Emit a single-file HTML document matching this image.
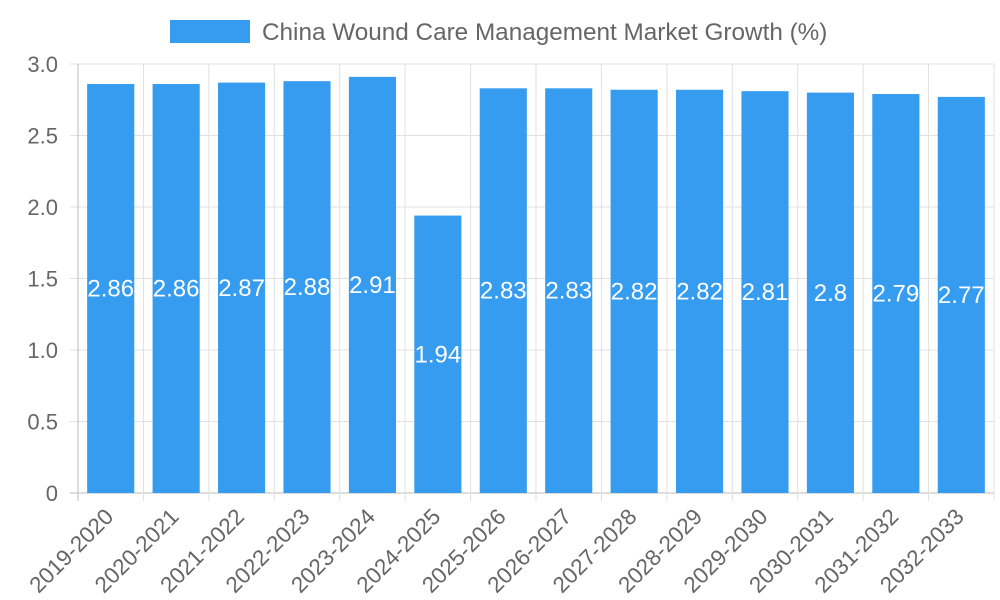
<!DOCTYPE html>
<html><head><meta charset="utf-8"><style>
body{margin:0;background:#fff;}
svg{display:block;font-family:"Liberation Sans",sans-serif;}
</style></head><body>
<svg id="chart" width="1000" height="600"></svg>
<script>
const categories=["2019-2020","2020-2021","2021-2022","2022-2023","2023-2024","2024-2025","2025-2026","2026-2027","2027-2028","2028-2029","2029-2030","2030-2031","2031-2032","2032-2033"];
const values=[2.86,2.86,2.87,2.88,2.91,1.94,2.83,2.83,2.82,2.82,2.81,2.8,2.79,2.77];
const yTicks=[0,0.5,1.0,1.5,2.0,2.5,3.0];
const yTickLabels=["0","0.5","1.0","1.5","2.0","2.5","3.0"];
const seriesName="China Wound Care Management Market Growth (%)";

const NS="http://www.w3.org/2000/svg";
const svg=document.getElementById('chart');
const L=78,R=994,T=64,B=493,yMax=3;
const bw=(R-L)/categories.length;
const y=v=>B-(v/yMax)*(B-T);
const x=i=>L+i*bw;
function mk(tag,attrs,parent){const e=document.createElementNS(NS,tag);for(const k in attrs)e.setAttribute(k,attrs[k]);(parent||svg).appendChild(e);return e;}

const lg=mk('g',{});


const lb=mk('rect',{x:170,y:20,width:80,height:23,fill:'#369cf0'},lg);


const lt=mk('text',{x:262,y:40,'font-size':24.3,fill:'#666'},lg);
lt.textContent=seriesName;



yTicks.forEach((t,i)=>{
  const gl=mk('line',{x1:L-8,x2:R,y1:y(t),y2:y(t),stroke:i==0?'#bbb':'#e0e0e0','stroke-width':1});
  
  
  const tx=mk('text',{x:L-20,y:y(t)+8,'font-size':22,fill:'#666','text-anchor':'end'});
  tx.textContent=yTickLabels[i];
  
  
});
for(let i=0;i<=categories.length;i++){
  const gl=mk('line',{x1:x(i),x2:x(i),y1:T,y2:B+8,stroke:i==0?'#bbb':'#e0e0e0','stroke-width':1});
  
  
}
categories.forEach((c,i)=>{
  const cx=x(i)+bw/2, w=bw*0.72;
  const r=mk('rect',{x:cx-w/2,y:y(values[i]),width:w,height:B-y(values[i]),fill:'#369cf0'});
  
  
  const vt=mk('text',{x:cx,y:(y(values[i])+B)/2+8,'font-size':24,fill:'#fff','text-anchor':'middle'});
  vt.textContent=values[i];
  
  
  const xt=mk('text',{x:0,y:0,'font-size':22.5,fill:'#666','text-anchor':'end',transform:`translate(${cx+4},${B+25}) rotate(-45)`});
  xt.textContent=c;
  
  
});
</script>
</body></html>
